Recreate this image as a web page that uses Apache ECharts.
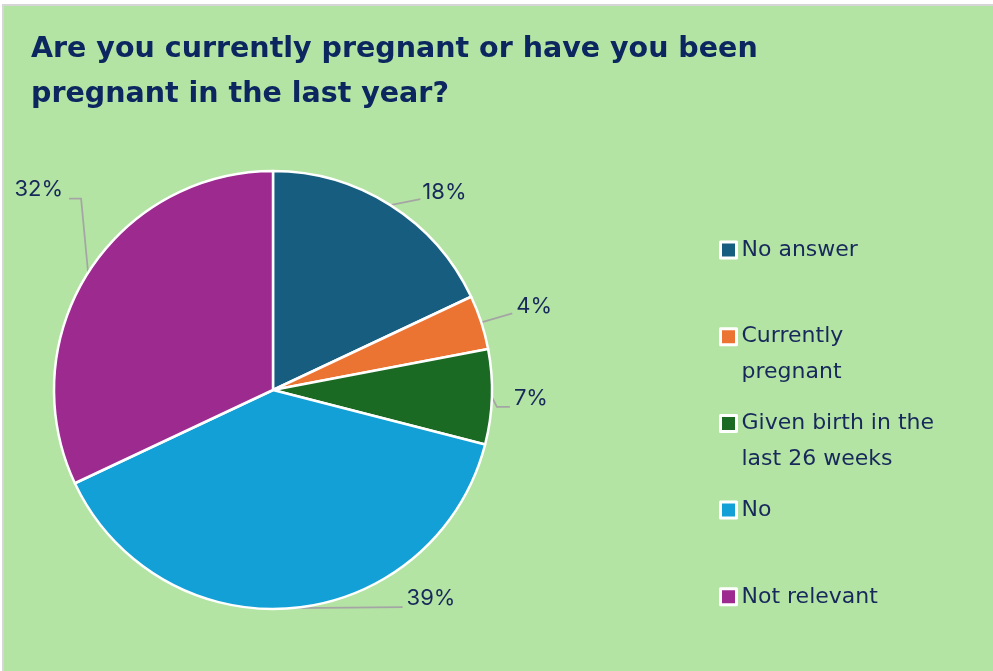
<!DOCTYPE html>
<html>
<head>
<meta charset="utf-8">
<style>
  html, body { margin: 0; padding: 0; background: #ffffff; }
  #panel {
    position: absolute; left: 2px; top: 4px; right: 0; bottom: 0;
    background: #b4e4a3;
    border-left: 2px solid #d6d6d6;
    border-top: 2px solid #d6d6d6;
  }
  #chart { position: absolute; left: 0; top: 0; width: 993px; height: 671px; }
</style>
<script src="https://cdn.jsdelivr.net/npm/echarts@6/dist/echarts.min.js"></script>
</head>
<body>
<div id="panel"></div>
<div id="chart"></div>
<script>
// Survey answers, in slice order (clockwise from 12 o'clock)
const categories = [
  'No answer',
  'Currently pregnant',
  'Given birth in the last 26 weeks',
  'No',
  'Not relevant'
];
const shares = [18, 4, 7, 39, 32];
const sliceColors = ['#175d80', '#ec7433', '#1b6a23', '#12a0d7', '#9c2a8f'];
// Legend captions as wrapped on screen
const legendLines = [
  'No answer',
  'Currently\npregnant',
  'Given birth in the\nlast 26 weeks',
  'No',
  'Not relevant'
];

const NAVY = '#0c2660';
const TEXT = '#17295b';
const LABEL_FONT = 'Inter, "Noto Sans", sans-serif';
const LEGEND_FONT = '"DejaVu Sans", "Noto Sans", sans-serif';
const TITLE_FONT = '"DejaVu Sans", "Noto Sans", sans-serif';

// Where each value label sits relative to the slice's edge anchor,
// and how its leader line ends next to the text.
const labelPlacement = [
  { dx: 32,  dy: -13, align: 'left',  end: [-2, 7], hook: 0 },
  { dx: 35,  dy: -16, align: 'left',  end: [-4, 7], hook: 0 },
  { dx: 22,  dy: 2,   align: 'left',  end: [-4, 8], hook: 13 },
  { dx: 113, dy: -10, align: 'left',  end: [-4, 9], hook: 0 },
  { dx: -25, dy: -83, align: 'right', end: [6, 9],  hook: 12 }
];

// Legend layout: first-line centre of each entry
const LEGEND_LEFT = 719;
const LEGEND_FIRST = 250;
const LEGEND_STEP = 86.7;
const LEGEND_LINE = 36;

const chart = echarts.init(document.getElementById('chart'), null, { renderer: 'canvas' });

// One legend per entry so every marker lines up with the first line of its caption.
// Two-line captions get an empty leading line so the block centres on line one.
const legends = categories.map((name, i) => {
  const twoLines = legendLines[i].indexOf('\n') >= 0;
  const c = LEGEND_FIRST + LEGEND_STEP * i;
  return {
    orient: 'vertical',
    left: LEGEND_LEFT,
    top: twoLines ? c - LEGEND_LINE * 1.5 : c - LEGEND_LINE / 2,
    padding: 0,
    selectedMode: false,
    icon: 'rect',
    itemWidth: 16,
    itemHeight: 16,
    itemStyle: { borderColor: '#ffffff', borderWidth: 3 },
    data: [name],
    formatter: () => (twoLines ? '\n' : '') + legendLines[i],
    textStyle: {
      fontFamily: LEGEND_FONT,
      fontSize: 22,
      lineHeight: LEGEND_LINE,
      color: TEXT
    }
  };
});

chart.setOption({
  animation: false,
  backgroundColor: 'transparent',
  title: {
    text: 'Are you currently pregnant or have you been\npregnant in the last year?',
    left: 31,
    top: 27,
    padding: 0,
    textStyle: {
      fontFamily: TITLE_FONT,
      fontWeight: 700,
      fontSize: 28.5,
      lineHeight: 45,
      color: NAVY
    }
  },
  legend: legends,
  series: [{
    type: 'pie',
    center: [273, 390],
    radius: 219,
    startAngle: 90,
    clockwise: true,
    silent: true,
    data: categories.map((name, i) => ({
      name: name,
      value: shares[i],
      itemStyle: { color: sliceColors[i] }
    })),
    itemStyle: { borderColor: '#ffffff', borderWidth: 2.5 },
    label: {
      show: true,
      formatter: '{c}%',
      fontFamily: LABEL_FONT,
      fontSize: 22,
      color: TEXT,
      overflow: 'none'
    },
    labelLine: {
      show: true,
      length: 5,
      length2: 5,
      lineStyle: { color: '#a5a5a5', width: 1.75 }
    },
    labelLayout: function (params) {
      const p = labelPlacement[params.dataIndex];
      const pts = params.labelLinePoints;
      if (!pts || !p) return {};
      const a = pts[0];
      const tx = a[0] + p.dx;
      const ty = a[1] + p.dy;
      const end = [tx + p.end[0], ty + p.end[1]];
      const line = [[a[0], a[1]]];
      if (p.hook) {
        const bx = p.align === 'left' ? end[0] - p.hook : end[0] + p.hook;
        line.push([bx, end[1]]);
      }
      line.push(end);
      return {
        x: tx,
        y: ty,
        align: p.align,
        verticalAlign: 'middle',
        labelLinePoints: line
      };
    }
  }]
});
</script>
</body>
</html>
